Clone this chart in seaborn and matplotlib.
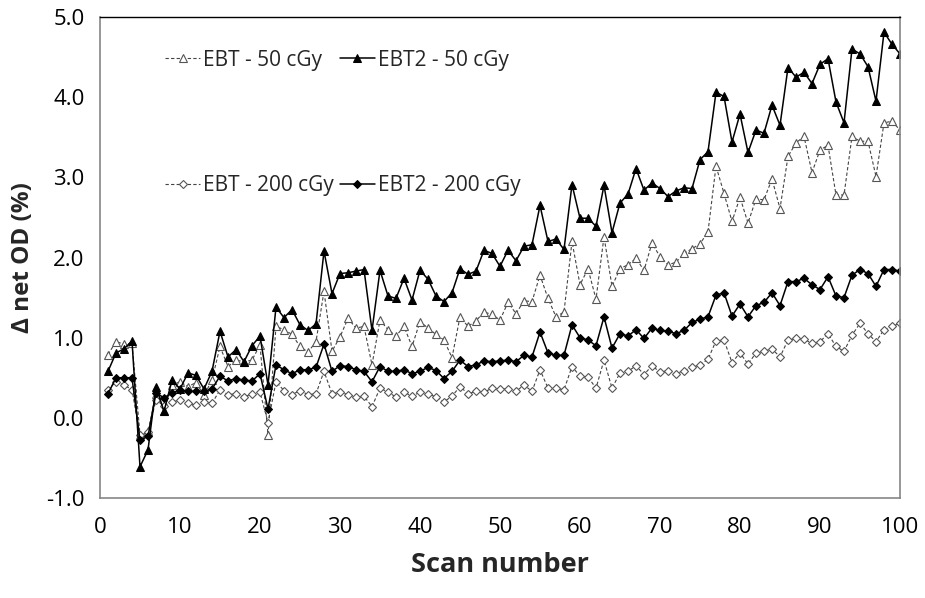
import matplotlib
matplotlib.use("Agg")
import matplotlib.pyplot as plt
import seaborn as sns
import numpy as np
import pandas as pd
from matplotlib.ticker import MultipleLocator, FormatStrFormatter

scan = list(range(1, 101))

ebt_50 = [0.79, 0.95, 0.92, 0.93, -0.21, -0.17, 0.30, 0.08, 0.41, 0.45,
          0.39, 0.44, 0.28, 0.47, 0.89, 0.64, 0.72, 0.70, 0.72, 0.91,
          -0.21, 1.14, 1.10, 1.04, 0.89, 0.82, 0.95, 1.58, 0.83, 1.01,
          1.24, 1.12, 1.14, 0.66, 1.22, 1.10, 1.02, 1.14, 0.89, 1.20,
          1.12, 1.04, 0.97, 0.75, 1.26, 1.14, 1.21, 1.32, 1.29, 1.22,
          1.44, 1.30, 1.46, 1.45, 1.78, 1.49, 1.26, 1.32, 2.20, 1.66,
          1.86, 1.48, 2.26, 1.64, 1.86, 1.91, 1.99, 1.84, 2.18, 2.01,
          1.91, 1.94, 2.05, 2.11, 2.17, 2.32, 3.14, 2.80, 2.45, 2.75,
          2.43, 2.73, 2.72, 2.98, 2.61, 3.26, 3.43, 3.51, 3.06, 3.34,
          3.40, 2.78, 2.78, 3.51, 3.45, 3.45, 3.01, 3.68, 3.70, 3.59]

ebt2_50 = [0.58, 0.81, 0.86, 0.96, -0.61, -0.40, 0.39, 0.08, 0.47, 0.36,
           0.56, 0.53, 0.36, 0.58, 1.08, 0.76, 0.85, 0.70, 0.90, 1.02,
           0.41, 1.38, 1.25, 1.35, 1.16, 1.09, 1.17, 2.08, 1.55, 1.80,
           1.81, 1.83, 1.85, 1.09, 1.84, 1.52, 1.49, 1.74, 1.47, 1.84,
           1.73, 1.52, 1.45, 1.56, 1.86, 1.79, 1.83, 2.09, 2.05, 1.89,
           2.09, 1.96, 2.14, 2.16, 2.65, 2.20, 2.23, 2.10, 2.91, 2.49,
           2.49, 2.39, 2.90, 2.31, 2.68, 2.79, 3.11, 2.84, 2.93, 2.86,
           2.76, 2.83, 2.87, 2.86, 3.22, 3.32, 4.06, 4.01, 3.44, 3.79,
           3.31, 3.59, 3.55, 3.90, 3.65, 4.37, 4.25, 4.31, 4.17, 4.41,
           4.48, 3.94, 3.68, 4.60, 4.54, 4.38, 3.95, 4.81, 4.66, 4.54]

ebt_200 = [0.35, 0.45, 0.41, 0.35, -0.22, -0.18, 0.22, 0.15, 0.20, 0.22,
           0.18, 0.16, 0.20, 0.18, 0.35, 0.29, 0.30, 0.26, 0.30, 0.32,
           -0.06, 0.45, 0.34, 0.29, 0.34, 0.29, 0.30, 0.58, 0.30, 0.32,
           0.29, 0.26, 0.27, 0.14, 0.37, 0.32, 0.26, 0.32, 0.27, 0.32,
           0.30, 0.26, 0.20, 0.27, 0.39, 0.30, 0.33, 0.32, 0.37, 0.36,
           0.36, 0.33, 0.41, 0.33, 0.60, 0.37, 0.37, 0.35, 0.64, 0.52,
           0.51, 0.37, 0.72, 0.37, 0.56, 0.58, 0.65, 0.54, 0.65, 0.57,
           0.59, 0.55, 0.59, 0.63, 0.66, 0.73, 0.96, 0.97, 0.69, 0.81,
           0.67, 0.81, 0.83, 0.86, 0.76, 0.97, 0.99, 0.98, 0.93, 0.95,
           1.05, 0.89, 0.83, 1.03, 1.18, 1.05, 0.95, 1.10, 1.14, 1.18]

ebt2_200 = [0.30, 0.50, 0.50, 0.50, -0.28, -0.23, 0.31, 0.25, 0.31, 0.35,
            0.33, 0.33, 0.33, 0.36, 0.52, 0.46, 0.49, 0.47, 0.46, 0.55,
            0.11, 0.66, 0.60, 0.55, 0.60, 0.60, 0.63, 0.92, 0.58, 0.65,
            0.64, 0.60, 0.58, 0.45, 0.64, 0.58, 0.58, 0.60, 0.55, 0.58,
            0.63, 0.59, 0.49, 0.58, 0.72, 0.64, 0.66, 0.71, 0.70, 0.71,
            0.72, 0.70, 0.78, 0.76, 1.07, 0.81, 0.78, 0.78, 1.16, 1.00,
            0.97, 0.90, 1.26, 0.87, 1.05, 1.02, 1.10, 0.99, 1.12, 1.09,
            1.08, 1.05, 1.09, 1.19, 1.23, 1.26, 1.53, 1.56, 1.27, 1.42,
            1.26, 1.40, 1.44, 1.56, 1.40, 1.70, 1.70, 1.74, 1.66, 1.60,
            1.76, 1.52, 1.50, 1.78, 1.85, 1.80, 1.64, 1.85, 1.85, 1.83]

labels = ["EBT - 50 cGy", "EBT - 200 cGy", "EBT2 - 50 cGy", "EBT2 - 200 cGy"]

sns.set_style("white")
plt.rcParams['font.family'] = ['Open Sans', 'DejaVu Sans']

fig = plt.figure(figsize=(9.25, 5.98), dpi=100)
ax = fig.add_axes([100/925, 1 - 498/598, 800/925, 481/598])

gray = "#868686"
sns.lineplot(x=scan, y=ebt_50, ax=ax, color="#444444", linestyle=(0, (3, 2)), linewidth=0.8,
             marker="^", markersize=6, markerfacecolor="white", markeredgecolor="#555555",
             markeredgewidth=0.8, label=labels[0])
sns.lineplot(x=scan, y=ebt_200, ax=ax, color="#444444", linestyle=(0, (3, 2)), linewidth=0.8,
             marker="D", markersize=4, markerfacecolor="white", markeredgecolor="#555555",
             markeredgewidth=0.8, label=labels[1])
sns.lineplot(x=scan, y=ebt2_50, ax=ax, color="black", linestyle="-", linewidth=1.1,
             marker="^", markersize=6, markerfacecolor="black", markeredgecolor="black",
             label=labels[2])
sns.lineplot(x=scan, y=ebt2_200, ax=ax, color="black", linestyle="-", linewidth=1.1,
             marker="D", markersize=4.5, markerfacecolor="black", markeredgecolor="black",
             label=labels[3])

ax.set_xlim(0, 100)
ax.set_ylim(-1.0, 5.0)
ax.xaxis.set_major_locator(MultipleLocator(10))
ax.xaxis.set_minor_locator(MultipleLocator(2))
ax.yaxis.set_major_locator(MultipleLocator(1.0))
ax.yaxis.set_minor_locator(MultipleLocator(0.2))
ax.yaxis.set_major_formatter(FormatStrFormatter("%.1f"))

ax.tick_params(axis='both', which='major', direction='out', length=6, width=1,
               color=gray, labelsize=16, labelcolor="black", pad=5)
ax.tick_params(axis='both', which='minor', direction='in', length=5, width=1, color=gray)
ax.tick_params(axis='x', which='major', pad=8)

for side in ["left", "bottom", "right"]:
    ax.spines[side].set_color(gray)
    ax.spines[side].set_linewidth(1.2)
ax.spines["top"].set_color("black")
ax.spines["top"].set_linewidth(1.0)

ax.set_xlabel("Scan number", fontsize=19.5, fontweight="bold", labelpad=10)
ax.set_ylabel("Δ net OD (%)", fontsize=17.5, fontweight="bold", labelpad=8)

ax.legend(loc="upper left", bbox_to_anchor=(0.081, 0.932), ncol=2, frameon=False,
          fontsize=15, labelspacing=5.0, columnspacing=0.3, handlelength=1.7,
          handletextpad=0.12, borderpad=0, borderaxespad=0)

fig.savefig("out.png", dpi=100)
